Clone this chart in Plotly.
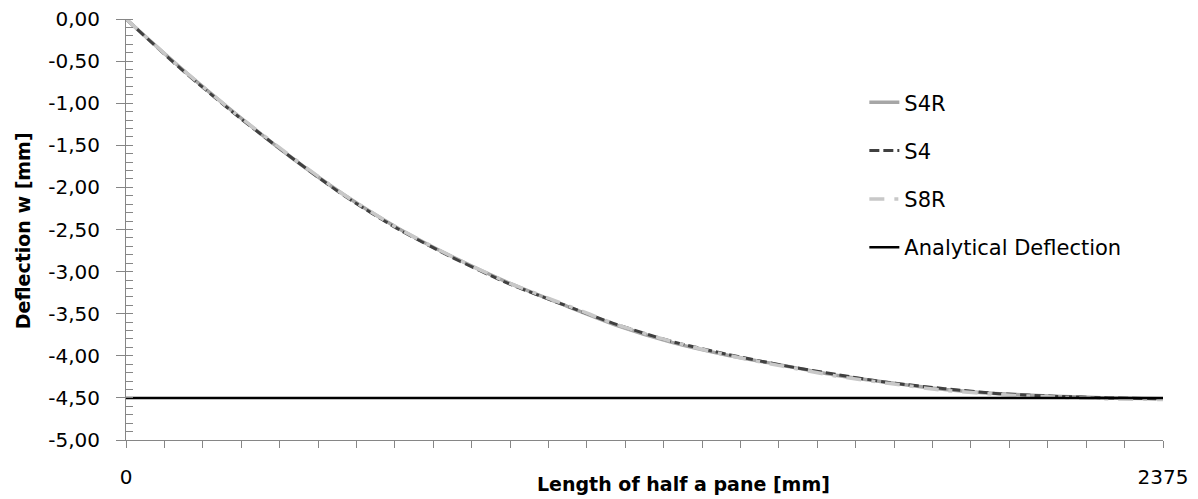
import plotly.graph_objects as go

# ---- data ----
x_mm = [0, 125, 250, 375, 500, 625, 750, 875, 1000, 1125, 1250, 1375,
        1500, 1625, 1750, 1875, 2000, 2125, 2250, 2375]
s4r = [0.00, -0.58, -1.12, -1.63, -2.09, -2.49, -2.83, -3.13, -3.39, -3.64,
       -3.84, -3.99, -4.11, -4.23, -4.32, -4.40, -4.45, -4.48, -4.50, -4.51]
s4 = [0.00, -0.59, -1.13, -1.63, -2.10, -2.50, -2.84, -3.14, -3.39, -3.63,
      -3.83, -3.98, -4.11, -4.22, -4.32, -4.39, -4.45, -4.48, -4.50, -4.51]
s8r = [0.00, -0.58, -1.12, -1.62, -2.09, -2.49, -2.83, -3.13, -3.38, -3.63,
       -3.83, -3.99, -4.12, -4.24, -4.33, -4.41, -4.46, -4.49, -4.51, -4.52]
analytical_x = [0, 2375]
analytical_w = [-4.50, -4.50]

x_tick_count = 28
x_tick_vals = [2375 * i / (x_tick_count - 1) for i in range(x_tick_count)]
x_tick_text = ["0"] + [""] * (x_tick_count - 2) + ["2375"]

y_tick_vals = [0, -0.5, -1.0, -1.5, -2.0, -2.5, -3.0, -3.5, -4.0, -4.5, -5.0]
y_tick_text = ["0,00", "-0,50", "-1,00", "-1,50", "-2,00", "-2,50",
               "-3,00", "-3,50", "-4,00", "-4,50", "-5,00"]

FONT = "DejaVu Sans"
AXIS_GREY = "#868686"

fig = go.Figure()
fig.add_trace(go.Scatter(x=x_mm, y=s4r, mode="lines", name="S4R", legendgroup="a",
                         line=dict(color="#a6a6a6", width=3.5, shape="spline", smoothing=0.6)))
fig.add_trace(go.Scatter(x=x_mm, y=s4, mode="lines", name="S4", legendgroup="b",
                         line=dict(color="#404040", width=3, dash="10px,4px", shape="spline", smoothing=0.6)))
fig.add_trace(go.Scatter(x=x_mm, y=s8r, mode="lines", name="S8R", legendgroup="c",
                         line=dict(color="#c8c8c8", width=3.5, dash="15px,10px,4px,10px", shape="spline", smoothing=0.6)))
fig.add_trace(go.Scatter(x=analytical_x, y=analytical_w, mode="lines", name="Analytical Deflection",
                         legendgroup="d", line=dict(color="black", width=2.5)))

fig.update_layout(
    width=1198, height=499,
    margin=dict(l=126, r=35, t=19, b=59, autoexpand=False),
    paper_bgcolor="white", plot_bgcolor="white",
    font=dict(family=FONT, color="black"),
    showlegend=True,
    legend=dict(x=0.712, y=0.85, xanchor="left", yanchor="top",
                font=dict(family=FONT, size=21, color="black"),
                tracegroupgap=18, bgcolor="rgba(0,0,0,0)"),
    xaxis=dict(range=[0, 2375], tickmode="array", tickvals=x_tick_vals, ticktext=x_tick_text,
               ticks="outside", ticklen=7, tickcolor=AXIS_GREY, tickwidth=1,
               showline=True, linecolor=AXIS_GREY, linewidth=1, automargin=False,
               showgrid=False, zeroline=False, ticklabelstandoff=12,
               tickfont=dict(family=FONT, size=20, color="black")),
    yaxis=dict(range=[-5, 0], tickmode="array", tickvals=y_tick_vals, ticktext=y_tick_text,
               ticks="outside", ticklen=9, tickcolor=AXIS_GREY, tickwidth=1,
               minor=dict(dtick=0.1, tick0=0, ticks="inside", ticklen=7, tickcolor=AXIS_GREY, tickwidth=1),
               showline=True, linecolor=AXIS_GREY, linewidth=1, automargin=False,
               showgrid=False, zeroline=False, ticklabelstandoff=12,
               tickfont=dict(family=FONT, size=20, color="black")),
    annotations=[
        dict(text="<b>Length of half a pane [mm]</b>", xref="paper", yref="paper",
             x=0.538, y=-0.1045, xanchor="center", yanchor="middle", showarrow=False,
             font=dict(family=FONT, size=19, color="black")),
        dict(text="<b>Deflection w [mm]</b>", xref="paper", yref="paper",
             x=-0.0993, y=0.496, xanchor="center", yanchor="middle", showarrow=False,
             textangle=-90, font=dict(family=FONT, size=19, color="black")),
    ],
)

fig.write_html("out.html")
